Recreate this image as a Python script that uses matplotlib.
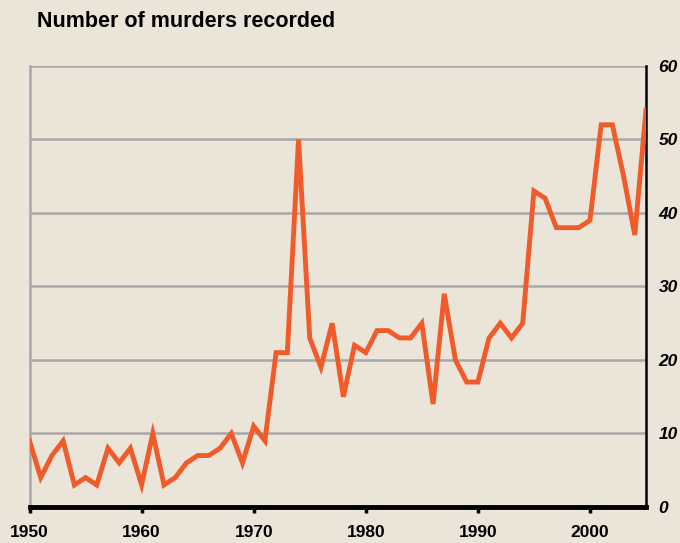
import matplotlib.pyplot as plt

# Murders recorded per year
years = list(range(1950, 2006))
murders = [9, 4, 7, 9, 3, 4, 3, 8, 6, 8,
           3, 10, 3, 4, 6, 7, 7, 8, 10, 6,
           11, 9, 21, 21, 50, 23, 19, 25, 15, 22,
           21, 24, 24, 23, 23, 25, 14, 29, 20, 17,
           17, 23, 25, 23, 25, 43, 42, 38, 38, 38,
           39, 52, 52, 45, 37, 54]
x_ticks = [1950, 1960, 1970, 1980, 1990, 2000]
y_ticks = [0, 10, 20, 30, 40, 50, 60]

bg = '#EAE4D9'
plt.rcParams['font.family'] = ['Liberation Sans', 'DejaVu Sans']

fig = plt.figure(figsize=(6.8, 5.43), dpi=100, facecolor=bg)
ax = fig.add_axes([0.0434, 0.0663, 0.9066, 0.8122])
ax.set_facecolor(bg)

# grid lines
for v in y_ticks[1:]:
    ax.axhline(v, color='#A8A8A8', lw=1.8, zorder=1)

ax.plot(years, murders, color='#F15A29', lw=3.5, zorder=3,
        solid_joinstyle='miter')

ax.set_xlim(1950, 2005)
ax.set_ylim(0, 60)

ax.spines['top'].set_visible(False)
ax.spines['left'].set_color('#A8A8A8')
ax.spines['left'].set_linewidth(1.8)
ax.spines['right'].set_color('black')
ax.spines['right'].set_linewidth(1.8)
ax.spines['bottom'].set_color('black')
ax.spines['bottom'].set_linewidth(3.5)
ax.spines['bottom'].set_zorder(4)

ax.set_xticks(x_ticks)
ax.set_xticklabels([str(y) for y in x_ticks], fontsize=12.5, fontweight='bold')
ax.tick_params(axis='x', direction='out', length=4, width=2.5, pad=9,
               color='black')

ax.yaxis.tick_right()
ax.set_yticks(y_ticks)
ax.set_yticklabels([str(v) for v in y_ticks], fontsize=12.5,
                   fontweight='bold', style='italic')
ax.tick_params(axis='y', length=0, pad=9)
ax.tick_params(axis='y', which='both', left=False)

fig.text(0.054, 0.96, 'Number of murders recorded', fontsize=15.5,
         fontweight='bold', ha='left', va='center')

fig.savefig('out.png', dpi=100, facecolor=bg)
